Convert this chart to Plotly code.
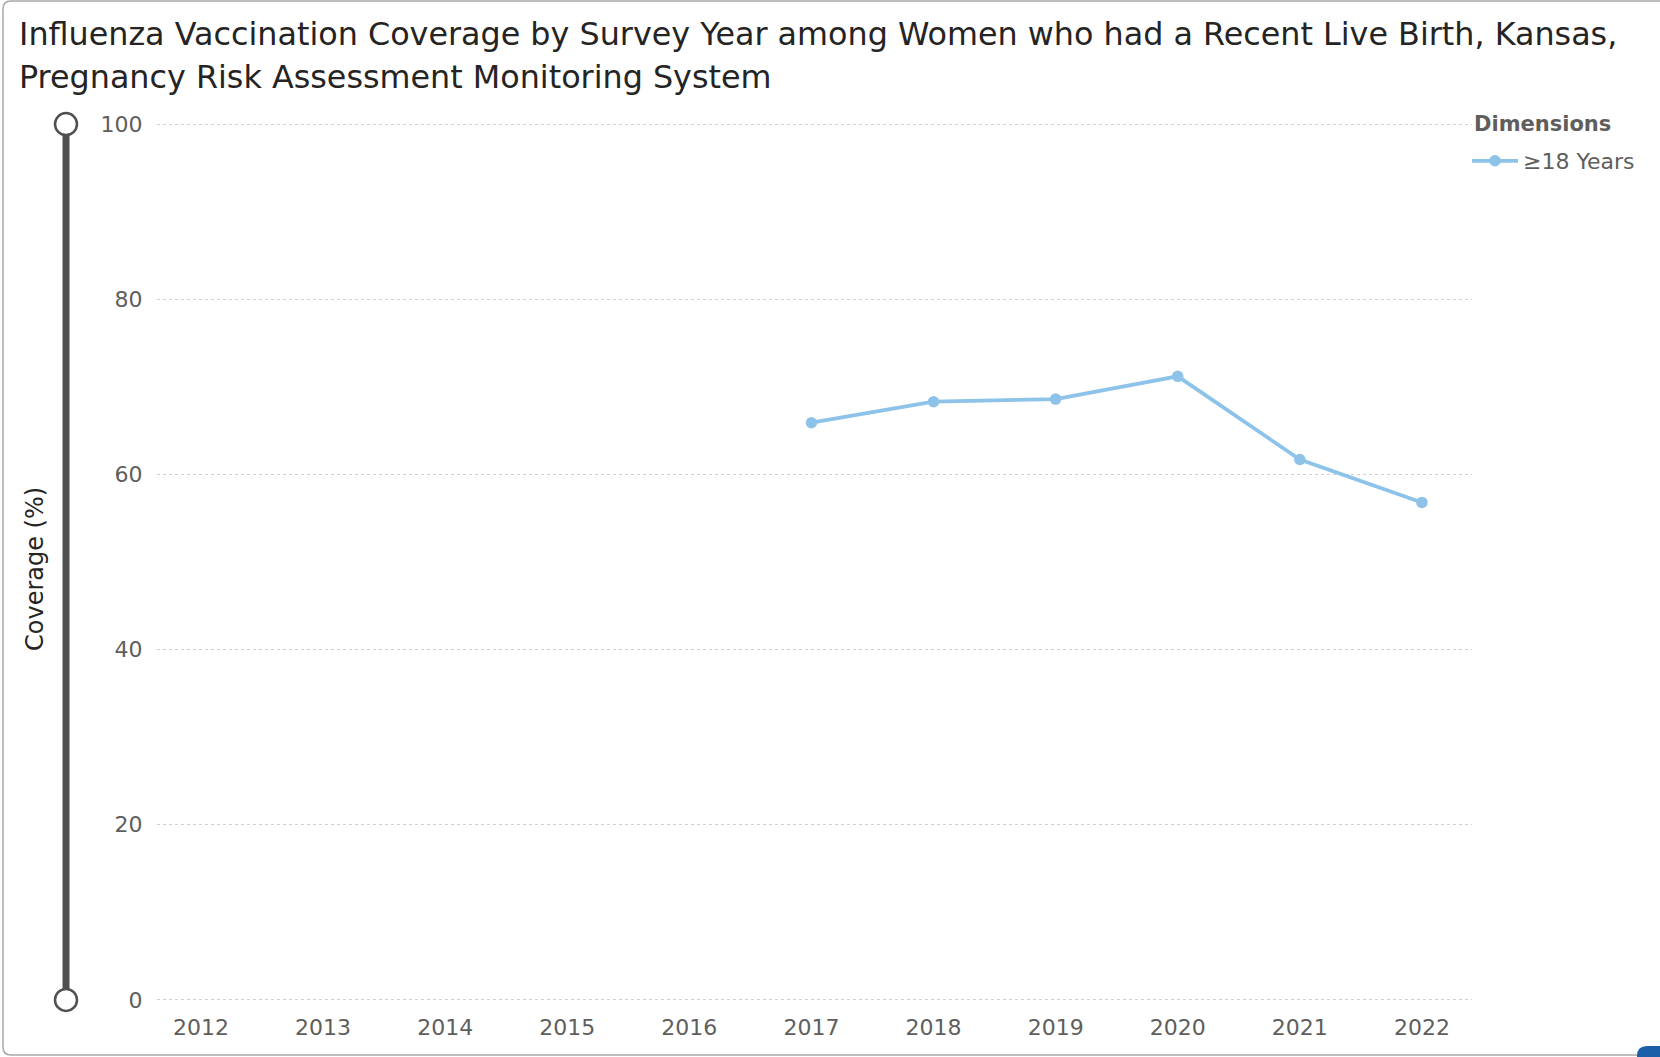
import plotly.graph_objects as go

# Survey years and coverage (%) for women with a recent live birth, Kansas PRAMS
years = [2017, 2018, 2019, 2020, 2021, 2022]
coverage = [65.9, 68.3, 68.6, 71.2, 61.7, 56.8]
tick_years = list(range(2012, 2023))
y_ticks = [0, 20, 40, 60, 80, 100]
series_name = "≥18 Years"

W, H = 1660, 1057
L, R, T, B = 157, 188, 123, 56
PW, PH = W - L - R, H - T - B


def px(x):
    """Pixel column -> paper x."""
    return (x - L) / PW


def py(y):
    """Pixel row -> paper y."""
    return (H - B - y) / PH


FONT = "DejaVu Sans"
DARK = "#252423"
GREY = "#605e5c"
BLUE = "#8dc3e8"
PAD = 0.12  # keeps the 0 and 100 grid lines inside the drawn range

fig = go.Figure()
fig.add_trace(go.Scatter(
    x=years, y=coverage, name=series_name, mode="lines+markers",
    line=dict(color=BLUE, width=3.8),
    marker=dict(color=BLUE, size=11.5),
    showlegend=True,
))

shapes = []

# outer frame of the visual (rounded on the left)
r = 8
fx0, fy0, fy1, fx1 = 3, 1, 1055, 1670
shapes.append(dict(
    type="path", xref="paper", yref="paper",
    path=(f"M {px(fx1)},{py(fy0)} L {px(fx0 + r)},{py(fy0)} "
          f"Q {px(fx0)},{py(fy0)} {px(fx0)},{py(fy0 + r)} "
          f"L {px(fx0)},{py(fy1 - r)} "
          f"Q {px(fx0)},{py(fy1)} {px(fx0 + r)},{py(fy1)} "
          f"L {px(fx1)},{py(fy1)}"),
    line=dict(color="#a8a8a8", width=1.5),
))

# blue corner tab
bx0, by0, br = 1637, 1046, 10
shapes.append(dict(
    type="path", xref="paper", yref="paper",
    path=(f"M {px(bx0)},{py(1075)} L {px(bx0)},{py(by0 + br)} "
          f"Q {px(bx0)},{py(by0)} {px(bx0 + br)},{py(by0)} "
          f"L {px(1680)},{py(by0)} L {px(1680)},{py(1075)} Z"),
    fillcolor="#1a5fa8", line=dict(width=0),
))

# vertical zoom slider along the value axis
sx = px(66)
y_lo = PAD / (100 + 2 * PAD)
y_hi = 1 - y_lo
shapes.append(dict(
    type="line", xref="paper", yref="paper",
    x0=sx, x1=sx, y0=y_lo, y1=y_hi,
    line=dict(color="#505050", width=7),
))
for yv in (y_lo, y_hi):
    shapes.append(dict(
        type="circle", xref="paper", yref="paper",
        xsizemode="pixel", ysizemode="pixel",
        xanchor=sx, yanchor=yv,
        x0=-11, x1=11, y0=-11, y1=11,
        fillcolor="white", line=dict(color="#505050", width=2.5),
    ))

annotations = [
    dict(text="Influenza Vaccination Coverage by Survey Year among Women who had a Recent Live Birth, Kansas,",
         xref="paper", yref="paper", x=px(17), y=py(34),
         xanchor="left", yanchor="middle", showarrow=False,
         font=dict(family=FONT, size=31.8, color=DARK)),
    dict(text="Pregnancy Risk Assessment Monitoring System",
         xref="paper", yref="paper", x=px(17), y=py(76),
         xanchor="left", yanchor="middle", showarrow=False,
         font=dict(family=FONT, size=31.8, color=DARK)),
    dict(text="Coverage (%)", textangle=-90,
         xref="paper", yref="paper", x=px(35), y=py(569),
         xanchor="center", yanchor="middle", showarrow=False,
         font=dict(family=FONT, size=24, color=DARK)),
    dict(text="<b>Dimensions</b>",
         xref="paper", yref="paper", x=px(1472), y=py(124),
         xanchor="left", yanchor="middle", showarrow=False,
         font=dict(family=FONT, size=21, color=GREY)),
]

fig.update_layout(
    width=W, height=H,
    margin=dict(l=L, r=R, t=T, b=B),
    paper_bgcolor="white", plot_bgcolor="white",
    font=dict(family=FONT, color=GREY),
    shapes=shapes,
    annotations=annotations,
    legend=dict(
        font=dict(family=FONT, size=22, color=GREY),
        x=px(1467), xanchor="left", y=py(161), yanchor="middle",
        itemwidth=46,
        bgcolor="rgba(0,0,0,0)",
    ),
    xaxis=dict(
        range=[2011.64, 2022.41], tickmode="array", tickvals=tick_years,
        ticktext=[str(y) for y in tick_years],
        showgrid=False, zeroline=False, showline=False,
        ticks="outside", ticklen=7, tickcolor="rgba(0,0,0,0)",
        tickfont=dict(family=FONT, size=22, color=GREY),
        fixedrange=True,
    ),
    yaxis=dict(
        range=[-PAD, 100 + PAD], tickmode="array", tickvals=y_ticks,
        showgrid=True, gridcolor="#d2d0ce", griddash="dot", gridwidth=1,
        zeroline=False, showline=False,
        ticks="outside", ticklen=9, tickcolor="rgba(0,0,0,0)",
        tickfont=dict(family=FONT, size=22, color=GREY),
        fixedrange=True,
    ),
)

fig.write_html("out.html")
